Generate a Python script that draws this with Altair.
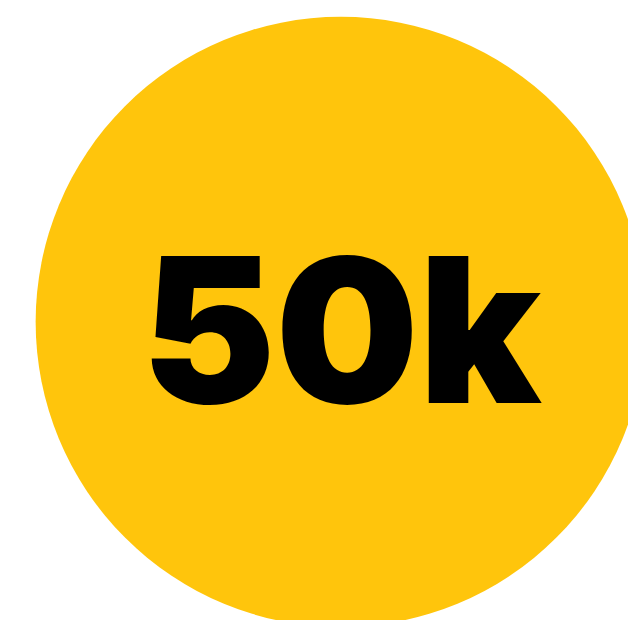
import altair as alt
import pandas as pd

labels = ["50k"]
values = [50000]

df = pd.DataFrame({"label": labels, "value": values})

base = alt.Chart(df)

circle = base.mark_circle(color="#FFC50C", opacity=1, size=381924).encode(
    x=alt.value(337),
    y=alt.value(314),
)

text = base.mark_text(
    font="Inter",
    fontWeight=900,
    fontSize=204,
    align="center",
    baseline="alphabetic",
    color="#000000",
).encode(
    x=alt.value(337.5),
    y=alt.value(396),
    text="label:N",
)

chart = (
    alt.layer(circle, text)
    .properties(width=628, height=612, autosize=alt.AutoSizeParams(type="none"), padding=0)
    .configure_view(stroke=None)
)

chart.save("out.html", embed_options={"renderer": "svg", "actions": False})
